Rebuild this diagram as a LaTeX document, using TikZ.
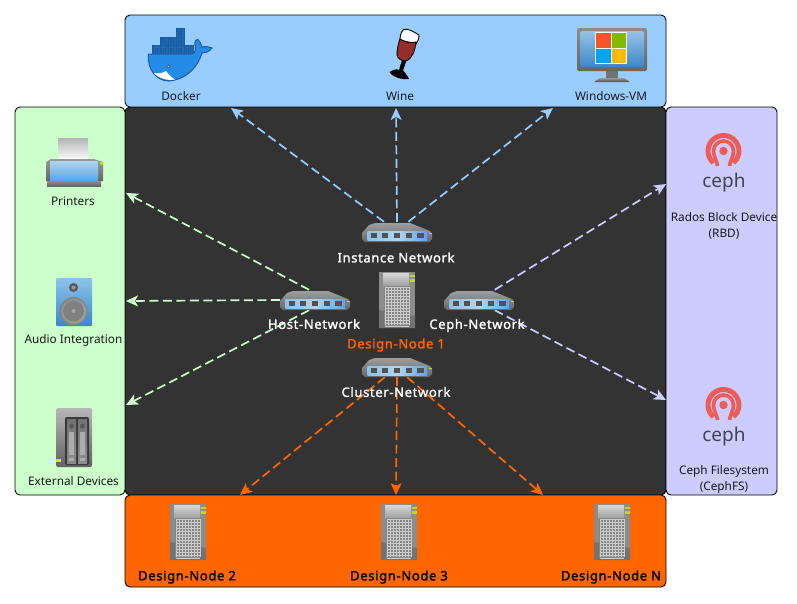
\documentclass[tikz,border=0pt]{standalone}
\usepackage{fontspec}
\setmainfont{Noto Sans}[BoldFont={Noto Sans}, BoldFeatures={FakeBold=1.6, LetterSpace=5}]
\definecolor{netblue}{RGB}{153,204,255}
\definecolor{netgreen}{RGB}{204,255,204}
\definecolor{netlilac}{RGB}{204,204,255}
\definecolor{netorange}{RGB}{255,102,0}
\definecolor{netdark}{RGB}{51,51,51}
\definecolor{ledgreen}{RGB}{190,215,40}
\definecolor{cephred}{RGB}{239,92,85}
\definecolor{cephgray}{RGB}{61,70,83}
\definecolor{dockerblue}{RGB}{36,140,230}
\definecolor{dockerdark}{RGB}{27,90,165}
\definecolor{stripblue}{RGB}{140,195,235}
\definecolor{stripdeep}{RGB}{95,165,225}
\definecolor{winred}{RGB}{244,86,42}
\definecolor{wingreen}{RGB}{128,187,0}
\definecolor{winblue}{RGB}{0,164,239}
\definecolor{winyellow}{RGB}{255,185,0}
\definecolor{screenlight}{RGB}{150,195,230}
\definecolor{screendeep}{RGB}{60,135,200}
\definecolor{winered}{RGB}{150,45,45}
\usetikzlibrary{arrows.meta,positioning,shapes.geometric,calc}

\begin{document}
\begin{tikzpicture}[x=1pt, y=-1pt,
  panel/.style={rectangle, rounded corners=5pt, draw=black, line width=0.9pt,
                inner sep=0pt},
  lbl/.style={font=\fontsize{11.8}{16}\selectfont, align=center, inner sep=0pt, text=black!90},
  nodelbl/.style={font=\fontsize{13}{14}\selectfont\bfseries, inner sep=0pt, text=black},
  netlbl/.style={font=\fontsize{13}{14}\selectfont\bfseries, inner sep=0pt, text=white},
  spot/.style={rectangle, minimum width=70pt, minimum height=20pt, inner sep=0pt},
  arr/.style={-{Stealth[length=12pt, width=11pt, inset=3pt]}, line width=1.7pt,
              dash pattern=on 9pt off 4.5pt},
  serverpic/.pic={
    \fill[black!45] (0,0) rectangle (36,56);
    \fill[black!55] (0,38) -- (36,44) -- (36,56) -- (0,56) -- cycle;
    \shade[top color=black!15, bottom color=black!38] (4,1) -- (30,1) -- (30,14) -- (4,14) -- cycle;
    \fill[black!48] (5,14) rectangle (30,54);
    \foreach \gx in {6,9,...,30} \draw[black!20, line width=1pt] (\gx,15) -- (\gx,53);
    \foreach \gy in {15,18,...,54} \draw[black!20, line width=1pt] (6,\gy) -- (30,\gy);
    \fill[ledgreen] (31,2.5) rectangle (36,5);
    \fill[ledgreen] (31,7) rectangle (36,9.5);
  },
  switchpic/.pic={
    \shade[top color=black!38, bottom color=black!60]
      (0,11) -- (7,3) -- (13,1) -- (48,1) -- (68,9) -- (70,12) -- (70,17)
      -- (67,20) -- (3,20) -- (0,17) -- cycle;
    \shade[left color=stripblue, right color=stripdeep, middle color=stripblue!70!white]
      (5.5,9) rectangle (65,18);
    \foreach \px in {11.7,23,35,47,58.5} \fill[black!68] (\px-3.2,11) rectangle (\px+3.2,16);
    \fill[ledgreen] (67,11) rectangle (70,12.2);
  },
  printerpic/.pic={
    \shade[top color=black!30, bottom color=white] (12,0) rectangle (42,22);
    \shade[top color=black!40, bottom color=black!60]
      (5,21) -- (48,21) -- (57,24) -- (57,43) -- (0,43) -- (0,24) -- cycle;
    \shade[top color=stripblue!70!white, bottom color=stripdeep] (4,23) rectangle (52,42);
    \fill[ledgreen] (54,24) rectangle (57,27);
    \shade[top color=black!45, bottom color=black!60] (1,43) rectangle (55,48);
  },
  speakerpic/.pic={
    \shade[top color=stripblue, bottom color=screendeep, rounded corners=1pt] (0,0) rectangle (36,48);
    \fill[black!65] (17.5,9.5) circle (4.5);
    \fill[black!40] (17.5,9.5) circle (2);
    \shade[outer color=black!50, inner color=white] (17.5,33) circle (14);
    \fill[black!50] (17.5,33) circle (10.5);
    \fill[black!35] (17.5,33) circle (2);
  },
  naspic/.pic={
    \shade[top color=black!28, bottom color=black!62, rounded corners=2pt] (0,0) rectangle (36,59);
    \fill[black!78, rounded corners=2pt] (9,9) rectangle (33,57);
    \foreach \bx in {11,22} {
      \shade[top color=black!55, bottom color=black!45] (\bx,11) rectangle (\bx+9,55);
      \fill[black!65] (\bx+4.5,18) circle (2.5);
      \fill[black!32] (\bx+2,24) rectangle (\bx+7,47);
      \fill[black!32] (\bx+2,50) rectangle (\bx+7,53);
    }
    \fill[ledgreen!60!yellow] (0,51) rectangle (5,54);
  },
  dockerpic/.pic={
    \foreach \bx/\by in {10/21.7,18.2/21.7,26.4/21.7,34.6/21.7,42.8/21.7,18.2/13.3,26.4/13.3,34.6/13.3,34.6/4.8} {
      \fill[dockerblue!75!black, draw=dockerdark, line width=0.8pt] (\bx,\by) rectangle ++(8.2,8.4);
      \foreach \dx in {1.5,3.3,5.1} \draw[dockerdark, line width=0.5pt] (\bx+\dx,\by+2) -- (\bx+\dx,\by+7);
    }
    \fill[dockerblue, draw=dockerdark, line width=1pt]
      (6.5,30) -- (50,30) .. controls (54,29) and (54,24) .. (53,21)
      .. controls (52,17) and (55,15) .. (56,15.5) .. controls (58,17) and (59,20) .. (60,23)
      .. controls (64,22) and (67,23) .. (70,24) .. controls (67,28) and (63,29) .. (60,29)
      .. controls (56,42) and (46,55) .. (27,57) .. controls (14,57) and (5,45) .. (6.5,30) -- cycle;
    \fill[white] (12,49) .. controls (17,50) and (21,49) .. (24,47)
      .. controls (26,50) and (29,53) .. (33,55.5) .. controls (25,57) and (16,54) .. (12,49) -- cycle;
    \fill[white, draw=dockerdark, line width=0.6pt] (26.5,42.5) circle (1.6);
  },
  winepic/.pic={
    \fill[black] (9.5,50) .. controls (14,47) and (18,47) .. (19,48)
      .. controls (20,44) and (23,36) .. (24,30) -- (27,30)
      .. controls (27,38) and (25,44) .. (23,48)
      .. controls (25,51) and (28,54) .. (29,57) .. controls (22,58) and (12,55) .. (9.5,50) -- cycle;
    \fill[white, draw=black, line width=0.9pt] (23.5,7.5) .. controls (28,6) and (34,10) .. (39,13)
      .. controls (39,17) and (38,19) .. (36,22) -- (20,18) .. controls (20,14) and (21,10) .. (23.5,7.5) -- cycle;
    \fill[winered, draw=black, line width=0.9pt] (20,17) .. controls (26,21) and (31,21) .. (36,20)
      .. controls (35,28) and (33,36) .. (26,39) .. controls (22,39.5) and (17,36) .. (17,33)
      .. controls (17,28) and (18,22) .. (20,17) -- cycle;
  },
  vmpic/.pic={
    \fill[black!55] (29,42) rectangle (41,50);
    \shade[top color=black!40, bottom color=black!70] (23,50) -- (47,50) -- (53,54) -- (17,54) -- cycle;
    \shade[top color=black!45, bottom color=black!60, rounded corners=2pt] (0,0) rectangle (70,43);
    \shade[top color=screenlight, bottom color=screendeep, rounded corners=2pt] (3,3) rectangle (67,39);
    \fill[white] (18,4) rectangle (50,36);
    \fill[winred] (19,5) rectangle (33.5,19.5);
    \fill[wingreen] (34.5,5) rectangle (49,19.5);
    \fill[winblue] (19,20.5) rectangle (33.5,35);
    \fill[winyellow] (34.5,20.5) rectangle (49,35);
  },
  cephpic/.pic={
    \draw[cephred, line width=5pt] (130:15.5) arc (130:410:15.5);
    \draw[cephred, line width=3.6pt] (-6,15) .. controls (-6,11) and (-10,6) .. (-10,0)
      arc (180:360:10) .. controls (10,6) and (6,11) .. (6,15);
    \fill[cephred] (0,0) circle (4.2);
  }
]
\useasboundingbox (0,0) rectangle (797,603);

% Panels
\node[panel, fill=netdark,   minimum width=541pt, minimum height=388pt] (core)  at (395.5,301) {};
\node[panel, fill=netblue,   minimum width=541pt, minimum height=92pt]  (guest) at (395.5,61) {};
\node[panel, fill=netgreen,  minimum width=110pt, minimum height=388pt] (periph) at (70,301) {};
\node[panel, fill=netlilac,  minimum width=111pt, minimum height=388pt] (store) at (721.5,301) {};
\node[panel, fill=netorange, minimum width=541pt, minimum height=92pt]  (nodes) at (395.5,541) {};

% Network spots
\node[spot] (instance) at (397,232) {};
\node[spot] (hostnet)  at (315,300) {};
\node[spot] (cephnet)  at (479,300) {};
\node[spot] (cluster)  at (397,367) {};

% Arrow ends
\coordinate (todocker)   at (231,108);
\coordinate (towine)     at (396,108);
\coordinate (tovm)       at (553,108);
\coordinate (toprinter)  at (126,193);
\coordinate (toaudio)    at (126,301);
\coordinate (toexternal) at (126,405);
\coordinate (torbd)      at (666,184);
\coordinate (tocephfs)   at (666,400);
\coordinate (tonode2)    at (240,495);
\coordinate (tonode3)    at (396,495);
\coordinate (tonoden)    at (543,495);

% Arrows
\draw[arr, draw=netblue]   (instance.142) -- (todocker);
\draw[arr, draw=netblue]   (instance.90)  -- (towine);
\draw[arr, draw=netblue]   (instance.42)  -- (tovm);
\draw[arr, draw=netgreen]  (hostnet.120)  -- (toprinter);
\draw[arr, draw=netgreen]  (hostnet.180)  -- (toaudio);
\draw[arr, draw=netgreen]  (hostnet.240)  -- (toexternal);
\draw[arr, draw=netlilac]  (cephnet.33)   -- (torbd);
\draw[arr, draw=netlilac]  (cephnet.327)  -- (tocephfs);
\draw[arr, draw=netorange] (cluster.220)  -- (tonode2);
\draw[arr, draw=netorange] (cluster.270)  -- (tonode3);
\draw[arr, draw=netorange] (cluster.315)  -- (tonoden);

% Icons
\pic at (362,222) {switchpic};
\pic at (280,290) {switchpic};
\pic at (444,290) {switchpic};
\pic at (362,357) {switchpic};
\pic at (379,272) {serverpic};
\pic at (170,504) {serverpic};
\pic at (381,504) {serverpic};
\pic at (594,504) {serverpic};
\pic at (142,24)  {dockerpic};
\pic at (380,22)  {winepic};
\pic at (577,28)  {vmpic};
\pic at (46,138)  {printerpic};
\pic at (56,278)  {speakerpic};
\pic at (56,408)  {naspic};
\pic at (723.5,151) {cephpic};
\pic at (723.5,405) {cephpic};

% Labels
\node[lbl] (docker)   at (181,96)  {Docker};
\node[lbl] (wine)     at (400,96)  {Wine};
\node[lbl] (winvm)    at (611,96)  {Windows-VM};
\node[lbl] (printers) at (73,201)  {Printers};
\node[lbl] (audio)    at (73.5,340) {Audio Integration};
\node[lbl] (external) at (73.5,481) {External Devices};
\node[font=\fontsize{19}{19}\selectfont, text=cephgray, inner sep=0pt] (cephrbd) at (724,183) {ceph};
\node[font=\fontsize{19}{19}\selectfont, text=cephgray, inner sep=0pt] (cephfs)  at (724,437) {ceph};
\node[lbl] (rbd) at (724,226)  {Rados Block Device\\(RBD)};
\node[lbl] (fs)  at (724,479)  {Ceph Filesystem\\(CephFS)};
\node[nodelbl] (node2) at (187,577) {Design-Node 2};
\node[nodelbl] (node3) at (399,577) {Design-Node 3};
\node[nodelbl] (noden) at (611,577) {Design-Node N};
\node[netlbl] (instancelbl) at (396,257.5) {Instance Network};
\node[netlbl] (hostlbl)     at (314,324) {Host-Network};
\node[netlbl] (cephlbl)     at (477,325.5) {Ceph-Network};
\node[netlbl] (clusterlbl)  at (396,392) {Cluster-Network};
\node[nodelbl, text=netorange] (node1) at (396,345) {Design-Node 1};
\end{tikzpicture}
\end{document}
